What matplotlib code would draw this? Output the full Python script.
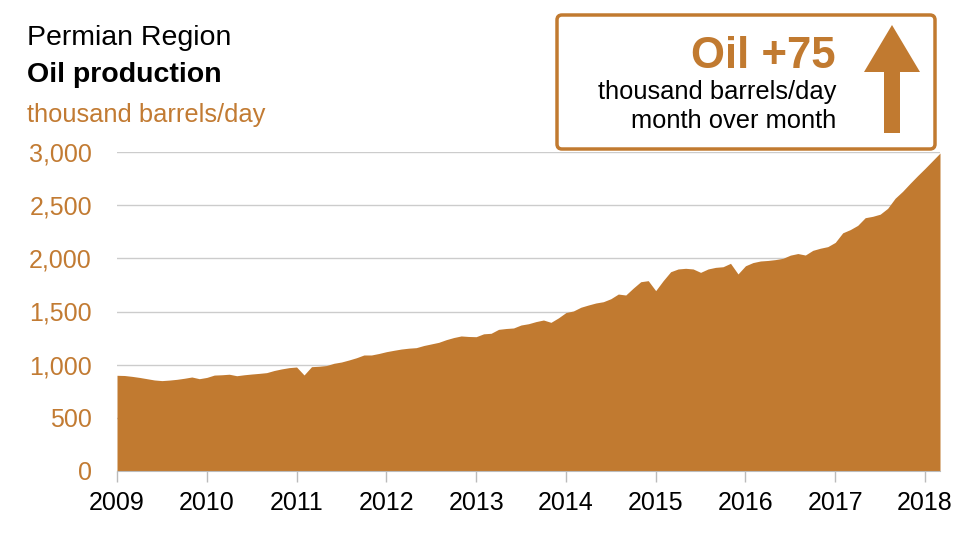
import matplotlib.pyplot as plt
import numpy as np
from matplotlib.patches import FancyBboxPatch, Polygon

plt.rcParams['font.family'] = ['Liberation Sans', 'DejaVu Sans']

# monthly oil production, thousand barrels/day, Jan 2009 - Mar 2018
prod_2009 = [900, 898, 890, 880, 868, 856, 850, 855, 862, 872, 884, 868]
prod_2010 = [880, 902, 905, 910, 896, 905, 912, 918, 925, 945, 960, 972]
prod_2011 = [978, 903, 981, 985, 992, 1013, 1025, 1044, 1065, 1091, 1091, 1105]
prod_2012 = [1122, 1135, 1147, 1155, 1160, 1180, 1195, 1210, 1235, 1255, 1270, 1265]
prod_2013 = [1263, 1290, 1295, 1332, 1340, 1345, 1373, 1385, 1405, 1420, 1398, 1440]
prod_2014 = [1490, 1505, 1540, 1561, 1580, 1592, 1620, 1664, 1655, 1720, 1780, 1790]
prod_2015 = [1696, 1790, 1874, 1900, 1906, 1900, 1868, 1900, 1915, 1921, 1953, 1853]
prod_2016 = [1930, 1960, 1975, 1980, 1988, 2000, 2030, 2045, 2031, 2075, 2095, 2110]
prod_2017 = [2150, 2240, 2270, 2310, 2382, 2395, 2415, 2470, 2565, 2630, 2705, 2777]
prod_2018 = [2846, 2918, 2990]

production = (prod_2009 + prod_2010 + prod_2011 + prod_2012 + prod_2013 +
              prod_2014 + prod_2015 + prod_2016 + prod_2017 + prod_2018)
years = 2009 + np.arange(len(production)) / 12.0

year_ticks = list(range(2009, 2019))
y_ticks = [0, 500, 1000, 1500, 2000, 2500, 3000]

orange = '#c17a30'
label_orange = '#c27b33'

fig = plt.figure(figsize=(9.66, 5.35), dpi=100)
ax = fig.add_axes([117/966, 64/535, 823/966, 319/535])

ax.fill_between(years, production, 0, color=orange, linewidth=0, zorder=2)
ax.set_xlim(2009, years[-1])
ax.set_ylim(0, 3000)

ax.set_yticks(y_ticks)
ax.set_yticklabels(['{:,}'.format(v) for v in y_ticks], color=label_orange, fontsize=18)
ax.tick_params(axis='y', length=0, pad=18)
ax.set_xticks(year_ticks)
ax.set_xticklabels([str(y) for y in year_ticks], fontsize=18)
ax.tick_params(axis='x', length=8, color='#bbbbbb', width=1, pad=6.5)

ax.grid(axis='y', color='#cccccc', linewidth=1, zorder=1)
for s in ['top', 'right', 'left']:
    ax.spines[s].set_visible(False)
ax.spines['bottom'].set_color('#bbbbbb')
ax.spines['bottom'].set_zorder(3)

# titles
fig.text(27/966, 1 - 38/535, 'Permian Region', fontsize=20.5, va='center')
fig.text(27/966, 1 - 75/535, 'Oil production', fontsize=20.5, fontweight='bold', va='center')
fig.text(27/966, 1 - 115/535, 'thousand barrels/day', fontsize=18.4, color=label_orange, va='center')

# callout box, drawn in pixel coordinates on an overlay
ov = fig.add_axes([0, 0, 1, 1], facecolor='none')
ov.set_xlim(0, 966)
ov.set_ylim(535, 0)
ov.axis('off')
box = FancyBboxPatch((557, 15), 378, 134, boxstyle='round,pad=0,rounding_size=5',
                     facecolor='white', edgecolor=orange, linewidth=2.5, zorder=5)
ov.add_patch(box)
ov.text(836, 56, 'Oil +75', fontsize=31.5, fontweight='bold', color=orange,
        ha='right', va='center', zorder=6)
ov.text(836, 92, 'thousand barrels/day', fontsize=18.4, ha='right', va='center', zorder=6)
ov.text(836, 121, 'month over month', fontsize=18.4, ha='right', va='center', zorder=6)
arrow = Polygon([(892, 25), (920, 72), (900, 72), (900, 133), (884, 133), (884, 72), (864, 72)],
                closed=True, facecolor=orange, edgecolor='none', zorder=6)
ov.add_patch(arrow)

fig.savefig('out.png', dpi=100)
